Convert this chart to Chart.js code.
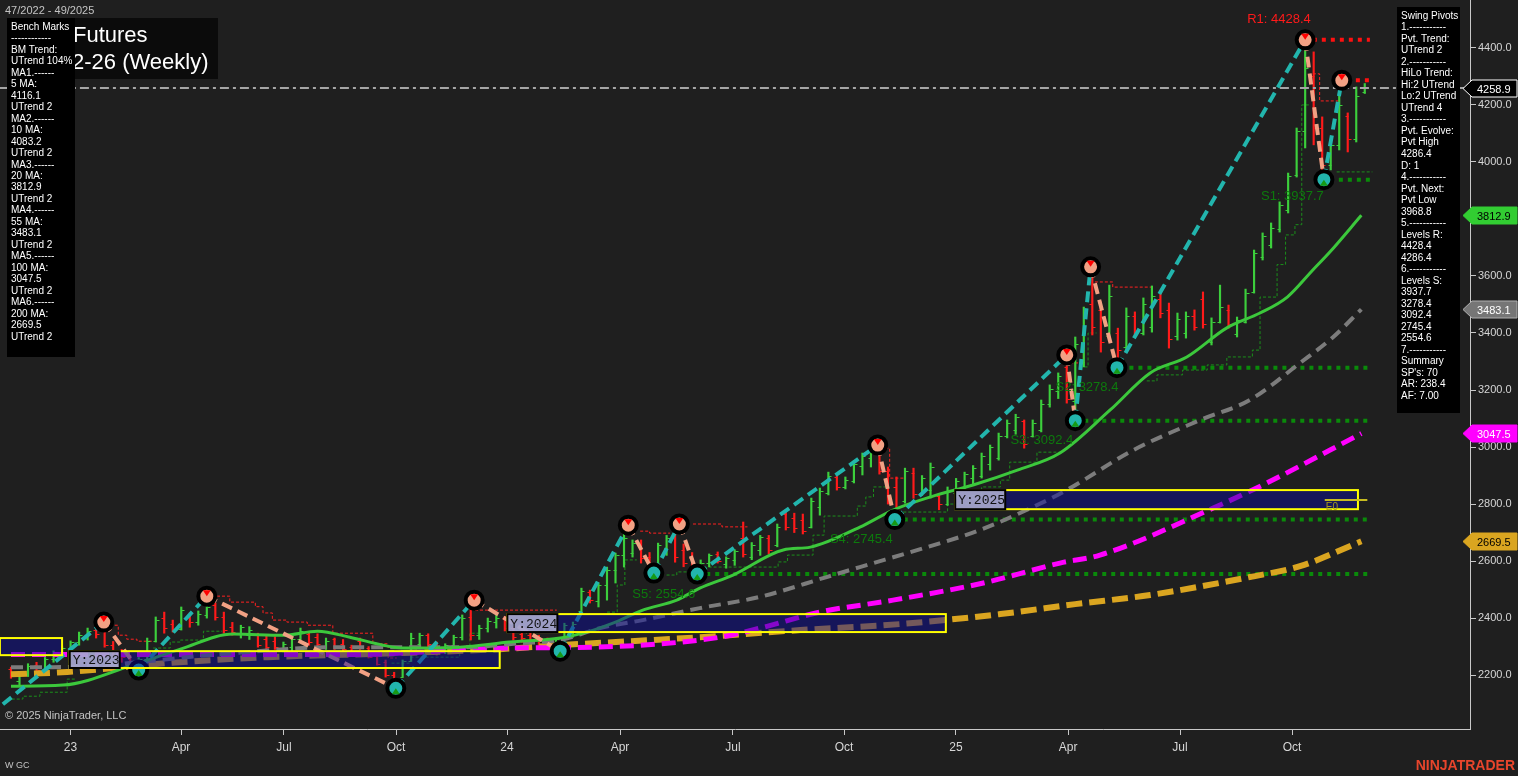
<!DOCTYPE html>
<html>
<head>
<meta charset="utf-8">
<script src="https://cdn.jsdelivr.net/npm/chart.js@4.4.1/dist/chart.umd.min.js"></script>
<style>
  html, body { margin: 0; padding: 0; background: #1f1f1f; overflow: hidden; }
  canvas { display: block; }
</style>
</head>
<body>
<canvas id="chart" width="1518" height="776"></canvas>
<script>
const FONT = '"Liberation Sans", Arial, sans-serif';
const UP = '#3ccf3c', DOWN = '#ff1a1a', TEAL = '#22b5ad', SALMON = '#f2a184', AXIS = '#c8c8c8';

// x = bar number (one bar per week, bar 0 = week 47/2022)
const tickK = [6.99, 19.97, 32.06, 45.22, 58.26, 71.53, 84.8, 97.84, 110.99, 124.15, 137.3, 150.46];
const tickLabels = ['23', 'Apr', 'Jul', 'Oct', '24', 'Apr', 'Jul', 'Oct', '25', 'Apr', 'Jul', 'Oct'];
const yTickVals = [2200, 2400, 2600, 2800, 3000, 3200, 3400, 3600, 3800, 4000, 4200, 4400];

// weekly OHLC
const barOpen = [2222,2180,2205,2235,2220,2255,2278,2295,2315,2340,2358,2360,2305,2280,2262,2238,2255,2320,2400,2380,
  2362,2410,2385,2410,2445,2405,2370,2345,2340,2340,2325,2320,2290,2300,2325,2345,2335,2300,2325,2310,
  2298,2320,2295,2268,2245,2200,2195,2250,2310,2340,2310,2285,2305,2335,2405,2340,2365,2385,2400,2365,
  2345,2340,2330,2320,2300,2325,2360,2425,2490,2460,2515,2570,2620,2630,2665,2615,2585,2645,2690,2640,
  2610,2565,2595,2625,2590,2605,2680,2615,2640,2680,2655,2765,2750,2745,2720,2790,2840,2895,2860,2880,
  2935,2960,2985,2915,2860,2810,2910,2840,2850,2830,2800,2840,2860,2890,2900,2940,2960,3040,3060,3090,
  3040,3060,3150,3195,3280,3160,3300,3500,3480,3390,3400,3350,3460,3400,3420,3520,3480,3390,3400,3460,
  3520,3370,3440,3480,3395,3440,3545,3665,3710,3765,3830,3955,4110,4300,4120,3990,4060,4160,4080,4245];
const barHigh = [2228,2210,2240,2245,2262,2285,2300,2320,2351,2365,2372,2386,2318,2290,2270,2262,2330,2404,2421,2393,
  2439,2418,2425,2477,2453,2421,2385,2375,2370,2347,2340,2335,2316,2330,2365,2350,2345,2330,2330,2325,
  2305,2330,2300,2275,2253,2210,2253,2347,2347,2345,2316,2310,2340,2411,2463,2375,2400,2411,2405,2370,
  2360,2350,2340,2330,2330,2382,2386,2505,2498,2523,2579,2628,2726,2674,2674,2630,2663,2690,2730,2660,
  2630,2604,2625,2632,2615,2640,2737,2665,2690,2690,2730,2772,2768,2765,2821,2856,2912,2902,2895,2951,
  2979,2990,3007,2930,2895,2926,2926,2900,2944,2835,2860,2890,2912,2935,2979,3007,3049,3095,3115,3095,
  3095,3165,3218,3260,3323,3386,3491,3632,3509,3568,3417,3488,3474,3523,3565,3540,3505,3470,3474,3481,
  3544,3453,3568,3498,3456,3554,3691,3751,3786,3860,3961,4119,4428.4,4386,4158,4077,4286.4,4172,4263,4275];
const barLow = [2189,2165,2195,2210,2215,2245,2265,2280,2305,2323,2330,2298,2270,2245,2230,2218,2250,2316,2347,2351,
  2358,2368,2375,2400,2393,2347,2340,2330,2325,2298,2288,2290,2281,2285,2323,2305,2295,2290,2290,2280,
  2265,2290,2260,2235,2193,2154,2193,2248,2300,2300,2270,2275,2295,2323,2323,2325,2351,2365,2355,2323,
  2315,2310,2300,2295,2284,2323,2333,2421,2453,2439,2463,2523,2579,2614,2593,2558,2568,2620,2596,2580,
  2554.6,2558,2580,2593,2575,2585,2614,2605,2620,2625,2650,2709,2700,2695,2716,2761,2832,2849,2853,2874,
  2902,2930,2905,2800,2745.4,2803,2820,2830,2821,2780,2795,2820,2849,2870,2891,2919,2954,3032,3045,2996,
  3035,3053,3140,3170,3154,3092.4,3281,3393,3333,3375,3278.4,3340,3386,3393,3403,3453,3347,3375,3382,3410,
  3417,3358,3435,3417,3386,3435,3540,3656,3698,3754,3821,3947,4049,4060,3937.7,3972,4042,4035,4070,4240];
const barClose = [2200,2205,2232,2218,2255,2278,2295,2315,2342,2355,2345,2305,2280,2262,2240,2255,2320,2395,2365,2360,
  2430,2385,2415,2440,2405,2360,2350,2368,2360,2305,2300,2298,2310,2325,2355,2315,2310,2320,2300,2290,
  2278,2295,2265,2240,2200,2170,2248,2330,2340,2310,2285,2305,2335,2400,2340,2365,2390,2400,2365,2335,
  2330,2318,2305,2300,2325,2375,2380,2495,2465,2515,2570,2620,2680,2665,2610,2585,2655,2680,2615,2595,
  2575,2595,2620,2600,2610,2635,2625,2655,2685,2640,2720,2720,2715,2705,2810,2845,2900,2860,2885,2940,
  2970,2980,2915,2820,2780,2915,2835,2890,2930,2800,2850,2880,2905,2925,2970,3000,3040,3085,3105,3010,
  3085,3150,3205,3250,3170,3360,3470,3420,3370,3530,3340,3460,3400,3500,3530,3470,3380,3450,3460,3420,
  3430,3440,3490,3430,3445,3540,3680,3740,3770,3850,3950,4110,4330,4120,3990,4060,4200,4080,4230,4258.9];

// moving averages
const ma20K = [0, 6.1, 14.3, 19.9, 26.1, 32, 36, 39.8, 43.7, 46, 52.7, 58.6, 64.5, 68.4, 70.7, 74.2, 78.2, 80.9, 84.8, 90.7, 93.9, 99.7, 103.6, 108.3, 113, 118.2, 123.2, 129.1, 133.8, 138.1, 142.8, 146.7, 149.9, 152.9, 154.9, 158.6];
const ma20Val = [2161, 2165, 2235, 2291, 2344, 2340, 2354, 2333, 2305, 2295, 2298, 2316, 2330, 2358, 2382, 2428, 2463, 2505, 2551, 2639, 2649, 2719, 2779, 2828, 2867, 2919, 2979, 3130, 3260, 3316, 3418, 3470, 3526, 3621, 3684, 3812.9];
const ma55K = [0, 4.9, 26.1, 37.8, 53.6, 59.8, 64.5, 69.2, 74.2, 80.9, 87.9, 95.8, 99.7, 107.6, 113.8, 120, 124, 131.8, 139.7, 145.5, 151.4, 155.3, 158.6];
const ma55Val = [2228, 2228, 2277, 2298, 2298, 2312, 2323, 2365, 2393, 2435, 2474, 2544, 2579, 2649, 2709, 2789, 2849, 2989, 3095, 3165, 3295, 3386, 3483.1];
const ma100K = [0, 16.3, 39.8, 58.6, 68.4, 83.3, 88, 95, 103.6, 114.2, 123.2, 127.9, 141.2, 147.5, 158.6];
const ma100Val = [2272, 2272, 2272, 2295, 2298, 2333, 2365, 2421, 2463, 2523, 2593, 2621, 2786, 2874, 3047.5];
const ma200K = [0, 6.6, 18.3, 30.1, 45.7, 57.4, 64.5, 80.9, 92.7, 104.4, 116.2, 125, 133.8, 145.5, 151.4, 158.6];
const ma200Val = [2203, 2211, 2242, 2263, 2277, 2291, 2305, 2333, 2358, 2379, 2414, 2449, 2481, 2544, 2582, 2669.5];

// trailing stops (null = break between runs)
const stopGreenK = [-0.5,1.4,3.4,6.6,7.5,7.5, 16.7,18.7,19.9,22.6,24.8,24.8, 44.7,46.9,52.7,53.9,55.1,55.1,
  70,71.2,72.1,73.5,73.5, 77,78.2,81.7,90.1,91.2,94.2,95.5,99.4,100.4,101.3,103,103,
  104.8,110,112.5,114,116.2,117.3,120.5,123.5,123.5, 125.5,126.5,127.5,127.5,
  133.4,134.6,137.6,140.5,142.8,145.8,146.7,148.7,149.7,150.8,151.6,152.6,152.6, 155.7,159.9];
const stopGreenVal = [2116,2126,2140,2186,2186,null, 2295,2316,2323,2354,2354,null, 2242,2263,2300,2347,2347,null,
  2421,2516,2604,2604,null, 2551,2562,2579,2597,2621,2691,2758,2793,2825,2860,2860,null,
  2772,2800,2830,2860,2884,2947,2982,2982,null, 3281,3400,3400,null,
  3232,3253,3270,3288,3316,3340,3526,3640,3744,3780,4200,4200,null, 3965,3965];
const stopRedK = [11.6,12.6,13.6,14.8,16.7,16.7, 24.2,25.7,28.7,29.6,30.7,32.4,34.8,37.8,42.5,44.3,45.3,45.3,
  54.5,64.1,64.1, 73.9,75,77.4,77.4, 80.1,83.5,86.5,86.5, 102.1,103.2,105,105, 124.4,125.6,125.6,
  127.3,129.4,134,134, 152.9,153.7,156];
const stopRedVal = [2375,2340,2326,2319,2319,null, 2477,2456,2440,2418,2393,2386,2375,2347,2310,2260,2260,null,
  2428,2428,null, 2705,2698,2698,null, 2730,2720,2720,null, 2996,2891,2891,null, 3295,3295,null,
  3579,3561,3561,null, 4309,4214,4214];

// swing pivots
const zigStartK = -2.5, zigStartVal = 2060;
const pivotK = [10.9, 15.0, 23.0, 45.2, 54.4, 64.5, 72.5, 75.5, 78.5, 80.6, 101.8, 103.8, 124.0, 125.0, 126.8, 129.9, 152.0, 154.2, 156.3];
const pivotVal = [2386, 2218, 2477, 2154, 2463, 2284, 2726, 2558, 2730, 2554.6, 3007, 2745.4, 3323, 3092.4, 3632, 3278.4, 4428.4, 3937.7, 4286.4];
const pivotType = ['H','L','H','L','H','L','H','L','H','L','H','L','H','L','H','L','H','L','H'];

// support / resistance levels
const levelName = ['R1', '', 'S1', 'S2', 'S3', 'S4', 'S5'];
const levelVal = [4428.4, 4286.4, 3937.7, 3278.4, 3092.4, 2745.4, 2554.6];
const levelStartK = [152.9, 156.9, 154.9, 130.3, 125.0, 103.8, 80.6];
const levelEndK = 159.6;

// yearly boxes
const yearLabel = ['', 'Y:2023', 'Y:2024', 'Y:2025'];
const yearStartK = [-1.3, 6.9, 58.3, 110.9];
const yearEndK = [6.0, 57.4, 109.8, 158.2];
const yearHigh = [2330, 2284, 2414, 2849];
const yearLow = [2270, 2225, 2351, 2782];

const lastPrice = 4258.9;
const tagVals = [4258.9, 3812.9, 3483.1, 3047.5, 2669.5];
const tagBg = ['#000000', '#32cd32', '#767676', '#ff00ff', '#daa520'];
const tagFg = ['#ffffff', '#000000', '#ffffff', '#ffffff', '#000000'];
const tagBorder = ['#ffffff', '#32cd32', '#b0b0b0', '#ff00ff', '#daa520'];

const benchLines = ['Bench Marks', '------------', 'BM Trend:', 'UTrend 104%', 'MA1.------', '5 MA:', '4116.1', 'UTrend 2',
  'MA2.------', '10 MA:', '4083.2', 'UTrend 2', 'MA3.------', '20 MA:', '3812.9', 'UTrend 2', 'MA4.------', '55 MA:',
  '3483.1', 'UTrend 2', 'MA5.------', '100 MA:', '3047.5', 'UTrend 2', 'MA6.------', '200 MA:', '2669.5', 'UTrend 2'];
const swingLines = ['Swing Pivots', '1.-----------', 'Pvt. Trend:', 'UTrend 2', '2.-----------', 'HiLo Trend:', 'Hi:2 UTrend',
  'Lo:2 UTrend', 'UTrend 4', '3.-----------', 'Pvt. Evolve:', 'Pvt High', '4286.4', 'D: 1', '4.-----------', 'Pvt. Next:',
  'Pvt Low', '3968.8', '5.-----------', 'Levels R:', '4428.4', '4286.4', '6.-----------', 'Levels S:', '3937.7', '3278.4',
  '3092.4', '2745.4', '2554.6', '7.-----------', 'Summary', "SP's: 70", 'AR: 238.4', 'AF: 7.00'];

const pts = (ks, vs) => ks.map((k, i) => ({ x: k, y: vs[i] }));

const datasets = [];
datasets.push({ id: 'stopG', type: 'line', data: pts(stopGreenK, stopGreenVal), borderColor: '#1b8f1b', borderWidth: 1,
  borderDash: [3, 2], stepped: true, pointRadius: 0, spanGaps: false, order: 10 });
datasets.push({ id: 'stopR', type: 'line', data: pts(stopRedK, stopRedVal), borderColor: '#ff2020', borderWidth: 1,
  borderDash: [3, 2], stepped: true, pointRadius: 0, spanGaps: false, order: 10 });
datasets.push({ id: 'bars', type: 'bar', data: barHigh.map((h, i) => ({ x: i, y: [barLow[i], h] })),
  backgroundColor: barClose.map((c, i) => c >= barOpen[i] ? UP : DOWN), barThickness: 1.5, grouped: false, order: 9 });
datasets.push({ id: 'last', type: 'line', data: [{ x: -1.3, y: lastPrice }, { x: 171.4, y: lastPrice }], borderColor: '#a5a5a5',
  borderWidth: 2, borderDash: [9, 4, 3, 4], pointRadius: 0, order: 8 });
levelVal.forEach((v, i) => {
  datasets.push({ id: 'lvl' + i, type: 'line', data: [{ x: levelStartK[i], y: v }, { x: levelEndK, y: v }],
    borderColor: levelName[i].startsWith('S') ? '#0a8a0a' : '#ff1010', borderWidth: 4, borderDash: [4, 5],
    pointRadius: 0, order: 7 });
});
datasets.push({ id: 'ma200', type: 'line', data: pts(ma200K, ma200Val), borderColor: '#daa520', borderWidth: 6,
  borderDash: [16, 7], cubicInterpolationMode: 'monotone', pointRadius: 0, order: 6 });
datasets.push({ id: 'ma100', type: 'line', data: pts(ma100K, ma100Val), borderColor: '#ff00ff', borderWidth: 5,
  borderDash: [14, 7], cubicInterpolationMode: 'monotone', pointRadius: 0, order: 5 });
datasets.push({ id: 'ma55', type: 'line', data: pts(ma55K, ma55Val), borderColor: '#7c7c7c', borderWidth: 4,
  borderDash: [12, 7], cubicInterpolationMode: 'monotone', pointRadius: 0, order: 4 });
datasets.push({ id: 'ma20', type: 'line', data: pts(ma20K, ma20Val), borderColor: '#3cc83c', borderWidth: 3,
  cubicInterpolationMode: 'monotone', pointRadius: 0, order: 3 });
datasets.push({ id: 'zig', type: 'line', data: pts([zigStartK, ...pivotK], [zigStartVal, ...pivotVal]), borderWidth: 4,
  borderDash: [11, 6], pointRadius: 0, order: 2,
  segment: { borderColor: c => c.p1.parsed.y > c.p0.parsed.y ? TEAL : SALMON } });
datasets.push({ id: 'pivots', type: 'line', data: pts(pivotK, pivotVal), showLine: false, pointRadius: 8.5,
  pointBorderWidth: 4, pointBorderColor: '#000', order: 1,
  pointBackgroundColor: pivotType.map(t => t === 'H' ? SALMON : TEAL) });

const overlay = {
  id: 'overlay',
  afterDatasetDraw(chart, args) {
    const ds = chart.data.datasets[args.index];
    const ctx = chart.ctx, xs = chart.scales.x, ys = chart.scales.y;
    if (ds.id === 'bars') {
      ctx.save();
      ctx.lineWidth = 1;
      barOpen.forEach((o, i) => {
        const x = Math.round(xs.getPixelForValue(i)) + 0.5;
        ctx.strokeStyle = barClose[i] >= o ? UP : DOWN;
        ctx.beginPath();
        const yo = Math.round(ys.getPixelForValue(o)) + 0.5, yc = Math.round(ys.getPixelForValue(barClose[i])) + 0.5;
        ctx.moveTo(x - 3, yo); ctx.lineTo(x, yo);
        ctx.moveTo(x, yc); ctx.lineTo(x + 3, yc);
        ctx.stroke();
      });
      ctx.restore();
    }
    if (ds.id === 'pivots') {
      const meta = chart.getDatasetMeta(args.index);
      ctx.save();
      meta.data.forEach((p, i) => {
        const hi = pivotType[i] === 'H';
        const cy = p.y + (hi ? -3 : 3);
        ctx.fillStyle = hi ? '#ff0000' : '#169a16';
        ctx.beginPath();
        if (hi) { ctx.moveTo(p.x - 4, cy - 3); ctx.lineTo(p.x + 4, cy - 3); ctx.lineTo(p.x, cy + 3); }
        else { ctx.moveTo(p.x - 4, cy + 3); ctx.lineTo(p.x + 4, cy + 3); ctx.lineTo(p.x, cy - 3); }
        ctx.fill();
      });
      ctx.restore();
    }
  },
  afterDatasetsDraw(chart) {
    const ctx = chart.ctx, xs = chart.scales.x, ys = chart.scales.y, a = chart.chartArea;
    ctx.save();
    ctx.beginPath(); ctx.rect(a.left, a.top, a.right - a.left, a.bottom - a.top); ctx.clip();
    // yearly range boxes
    yearStartK.forEach((k, i) => {
      const x1 = xs.getPixelForValue(k), x2 = xs.getPixelForValue(yearEndK[i]);
      const y1 = ys.getPixelForValue(yearHigh[i]), y2 = ys.getPixelForValue(yearLow[i]);
      ctx.fillStyle = 'rgba(14,14,150,0.5)';
      ctx.fillRect(x1, y1, x2 - x1, y2 - y1);
      ctx.strokeStyle = '#ffff00'; ctx.lineWidth = 2;
      ctx.strokeRect(x1, y1, x2 - x1, y2 - y1);
      if (yearLabel[i]) {
        ctx.fillStyle = 'rgba(176,176,212,0.88)';
        ctx.fillRect(x1, y1, 50, y2 - y1);
        ctx.strokeStyle = '#000'; ctx.lineWidth = 2;
        ctx.strokeRect(x1, y1, 50, y2 - y1);
        ctx.fillStyle = '#111';
        ctx.font = '13px "Liberation Mono", monospace';
        ctx.textBaseline = 'middle'; ctx.textAlign = 'left';
        ctx.fillText(yearLabel[i], x1 + 3, (y1 + y2) / 2 + 1);
      }
    });
    // E0 marker in the current year box
    const ey = ys.getPixelForValue(2814);
    ctx.strokeStyle = '#c8bc20'; ctx.lineWidth = 2;
    ctx.beginPath(); ctx.moveTo(xs.getPixelForValue(154.3), ey); ctx.lineTo(xs.getPixelForValue(159.3), ey); ctx.stroke();
    ctx.fillStyle = '#a89a18'; ctx.font = '10px ' + FONT; ctx.textBaseline = 'top';
    ctx.fillText('E0', xs.getPixelForValue(154.3) + 1, ey + 2);
    // level labels
    ctx.font = '13px ' + FONT; ctx.textAlign = 'right'; ctx.textBaseline = 'middle';
    levelName.forEach((n, i) => {
      if (!n) return;
      const x = xs.getPixelForValue(levelStartK[i]) - (n === 'S1' ? 6 : 2);
      const y = ys.getPixelForValue(levelVal[i]);
      if (n.startsWith('R')) { ctx.fillStyle = '#ff1a1a'; ctx.fillText(n + ': ' + levelVal[i].toFixed(1), x, y - 20); }
      else { ctx.fillStyle = '#0d7a0d'; ctx.fillText(n + ': ' + levelVal[i].toFixed(1), x, y + (n === 'S1' ? 17 : 20)); }
    });
    ctx.restore();
  },
  afterDraw(chart) {
    const ctx = chart.ctx, ys = chart.scales.y;
    ctx.save();
    // title (partly hidden behind the bench mark panel)
    ctx.fillStyle = '#0b0b0b'; ctx.fillRect(8, 18, 210, 61);
    ctx.fillStyle = '#ffffff'; ctx.font = '22px ' + FONT; ctx.textBaseline = 'middle'; ctx.textAlign = 'left';
    ctx.fillText('Gold Futures', 73 - ctx.measureText('Gold ').width, 36);
    ctx.fillText('GC 12-26 (Weekly)', 72 - ctx.measureText('GC 1').width, 63);
    // bench marks panel
    ctx.fillStyle = '#000'; ctx.fillRect(7, 18, 68, 339);
    ctx.fillStyle = '#ffffff'; ctx.font = '10px ' + FONT;
    benchLines.forEach((t, i) => ctx.fillText(t, 11, 27 + i * 11.48));
    // swing pivots panel
    ctx.fillStyle = '#000'; ctx.fillRect(1397, 7, 63, 406);
    ctx.fillStyle = '#ffffff';
    swingLines.forEach((t, i) => ctx.fillText(t, 1401, 16 + i * 11.52));
    // price tags on the axis
    ctx.font = '11px ' + FONT;
    tagVals.forEach((v, i) => {
      const y = Math.round(ys.getPixelForValue(v)) + 0.5;
      ctx.beginPath();
      ctx.moveTo(1463, y); ctx.lineTo(1472, y - 8.5); ctx.lineTo(1517, y - 8.5);
      ctx.lineTo(1517, y + 8.5); ctx.lineTo(1472, y + 8.5); ctx.closePath();
      ctx.fillStyle = tagBg[i]; ctx.fill();
      ctx.strokeStyle = tagBorder[i]; ctx.lineWidth = 1; ctx.stroke();
      ctx.fillStyle = tagFg[i]; ctx.fillText(v.toFixed(1), 1477, y + 1);
    });
    // captions
    ctx.fillStyle = '#c4c4c4'; ctx.font = '11px ' + FONT;
    ctx.fillText('47/2022 - 49/2025', 5, 11);
    ctx.fillText('\u00a9 2025 NinjaTrader, LLC', 5, 716);
    ctx.font = '9px ' + FONT; ctx.fillText('W GC', 5, 766);
    ctx.fillStyle = '#e8452c'; ctx.font = 'bold 14px ' + FONT; ctx.textAlign = 'right';
    ctx.fillText('NINJATRADER', 1515, 766);
    ctx.restore();
  }
};

new Chart(document.getElementById('chart'), {
  type: 'line',
  data: { datasets },
  plugins: [overlay],
  options: {
    responsive: false, animation: false,
    layout: { padding: 0, autoPadding: false },
    plugins: { legend: { display: false }, tooltip: { enabled: false } },
    scales: {
      x: {
        type: 'linear', min: -1.29, max: 171.36, offset: false,
        afterBuildTicks: s => { s.ticks = tickK.map(v => ({ value: v })); },
        afterFit: s => { s.height = 47; s.paddingLeft = 0; s.paddingRight = 0; },
        grid: { drawOnChartArea: false, drawTicks: true, tickLength: 6, color: AXIS, offset: false },
        border: { display: true, color: AXIS, width: 1 },
        ticks: { autoSkip: false, maxRotation: 0, padding: 5, color: '#d6d6d6', font: { family: FONT, size: 12 },
          callback: (v, i) => tickLabels[i] }
      },
      y: {
        type: 'linear', position: 'right', min: 2011, max: 4568,
        afterBuildTicks: s => { s.ticks = yTickVals.map(v => ({ value: v })); },
        afterFit: s => { s.width = 48; s.paddingTop = 0; s.paddingBottom = 0; },
        grid: { drawOnChartArea: false, drawTicks: true, tickLength: 6, color: AXIS },
        border: { display: true, color: AXIS, width: 1 },
        ticks: { padding: 2, color: '#d6d6d6', font: { family: FONT, size: 11 }, callback: v => v.toFixed(1) }
      }
    }
  }
});
</script>
</body>
</html>
